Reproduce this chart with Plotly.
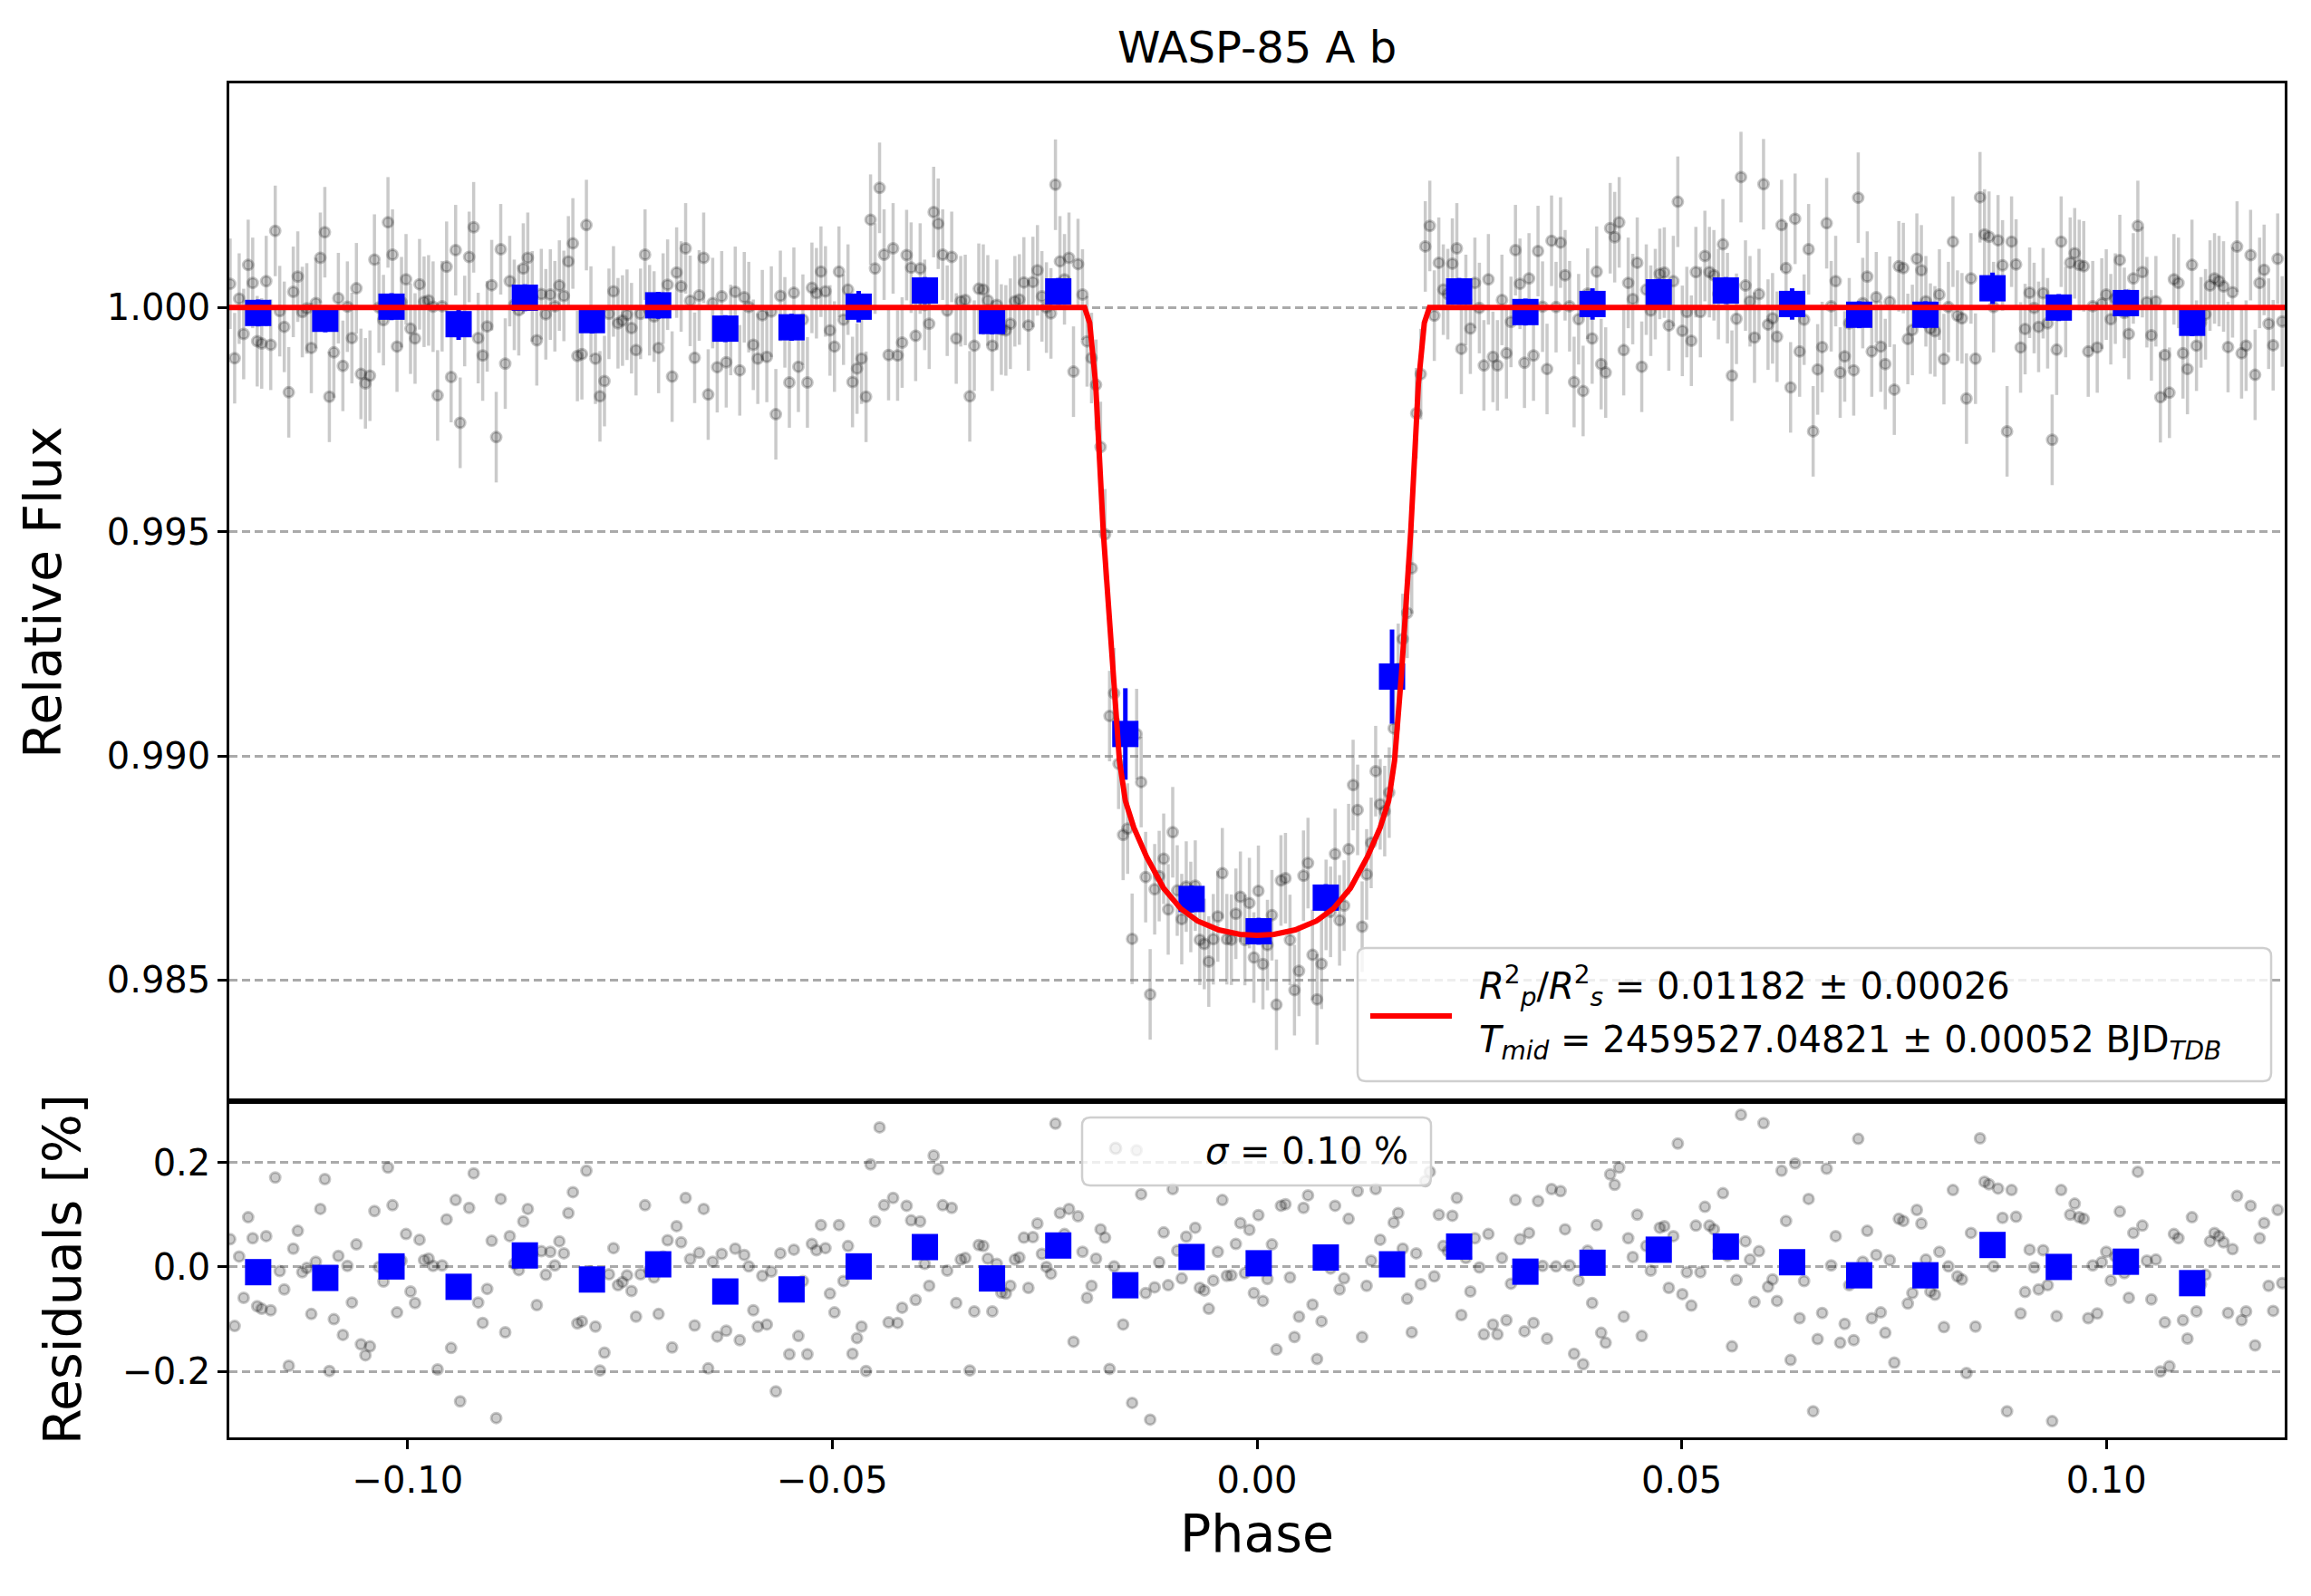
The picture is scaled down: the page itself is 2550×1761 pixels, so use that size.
import numpy as np
import plotly.graph_objects as go
from plotly.subplots import make_subplots

# first / last phase of the unbinned light curve (evenly sampled cadence)
phase_first = -0.1209
phase_last = 0.1207

# residuals of the unbinned points [%], read left to right
resid_pct = [
    0.053, -0.113, 0.020, -0.059, 0.095, 0.055, -0.075, -0.080, 0.059, -0.083,
    0.171, -0.008, -0.043, -0.189, 0.035, 0.069, -0.010, -0.002, -0.090, 0.010,
    0.111, 0.168, -0.199, -0.100, 0.021, -0.130, 0.002, -0.068, 0.043, -0.148,
    -0.169, -0.152, 0.107, 0.000, -0.028, 0.190, 0.118, -0.087, 0.012, 0.063,
    -0.047, -0.069, 0.052, 0.013, 0.016, 0.002, -0.196, 0.003, 0.091, -0.155,
    0.128, -0.257, -0.030, 0.113, 0.179, -0.068, -0.107, -0.042, 0.050, -0.289,
    0.130, -0.125, 0.059, 0.006, -0.006, 0.087, 0.111, 0.025, -0.073, 0.030,
    -0.015, 0.029, 0.003, 0.049, 0.026, 0.103, 0.143, -0.108, -0.104, 0.184,
    -0.009,
    -0.114, -0.198, -0.164, -0.014, 0.036, -0.035, -0.029, -0.016, -0.046, -0.095,
    -0.014, 0.118, -0.006, -0.020, -0.090, 0.020, 0.051, -0.154, 0.078, 0.047,
    0.132, 0.015, -0.112, 0.027, 0.111, -0.194, 0.010, -0.133, 0.025, -0.122,
    -0.050, 0.035, -0.140, 0.023, 0.001, -0.083, -0.114, -0.017, -0.110, -0.009,
    -0.238, 0.026, -0.033, -0.167, 0.033, -0.132, -0.027, -0.167, 0.044, 0.032,
    0.080, 0.036, -0.051, -0.087, 0.080, -0.027, 0.040, -0.166, -0.136, -0.114,
    -0.199, 0.196, 0.087, 0.267, 0.118, -0.106, 0.132, -0.107, -0.078, 0.117,
    0.089, -0.063, 0.087, 0.006, -0.036, 0.213, 0.187, 0.118, -0.007, 0.113,
    -0.069,
    0.014, 0.017, -0.198, -0.085, 0.042, 0.040, 0.016, -0.085, 0.006, -0.049,
    -0.051, -0.036, 0.014, 0.018, 0.056, -0.040, 0.057, 0.083, 0.025, 0.000,
    -0.013, 0.274, 0.103, 0.063, 0.111, -0.143, 0.097, 0.029, -0.059, -0.036,
    0.016, 0.072, 0.056, -0.195, 0.001, -0.030, -0.110, -0.046, -0.260, 0.223,
    0.139, -0.050, -0.292, -0.039, 0.009, 0.066, -0.035, 0.149, 0.031, -0.022,
    0.058, 0.020, 0.075, -0.040, -0.045, -0.080, -0.026, 0.029, 0.128, -0.017,
    -0.016, 0.044, 0.084, -0.012, 0.071, -0.050, 0.099, -0.065, -0.023, 0.043,
    -0.158, 0.117, 0.120, -0.020, -0.134, -0.095, 0.113, 0.137, -0.072, -0.176,
    -0.104, 0.020, -0.003, 0.117, -0.043, -0.022, 0.092, 0.219, 0.145, -0.134,
    -0.036, 0.012, 0.149, 0.052, 0.005, 0.010, 0.085, 0.103, 0.035, -0.061,
    -0.125, 0.026, -0.033, 0.164, 0.182, -0.018, 0.100, 0.040, 0.030, 0.098,
    0.132, -0.092, 0.017, -0.047, 0.055, -0.001, -0.129, 0.063, -0.110, -0.129,
    0.017, -0.102, -0.032, 0.128, 0.053, -0.123, 0.065, -0.107, 0.126, 0.002,
    -0.137, 0.149, 0.001, 0.145, 0.072, 0.003, -0.166, -0.026, -0.186, 0.031,
    -0.069, 0.080, -0.126, -0.145, 0.177, 0.157, 0.190, -0.095, 0.055, 0.019,
    0.100, -0.132, 0.040, -0.007, 0.030, 0.075,
    0.078, -0.040, 0.059, 0.236, -0.052, -0.010, -0.074, 0.079, -0.010, 0.115,
    0.079, 0.072, 0.030, 0.141, 0.021, -0.152, -0.025, 0.291, 0.049, 0.014,
    -0.067, 0.030, 0.275, -0.038, -0.024, -0.065, 0.184, 0.088, -0.178, 0.198,
    -0.098, -0.027, 0.130, -0.276, -0.138, -0.088, 0.188, 0.003, 0.059, -0.145,
    -0.109, -0.035, -0.140, 0.245, 0.010, 0.069, -0.098, 0.023, -0.087, -0.126,
    0.013, -0.183, 0.092, 0.088, -0.070, -0.050, 0.109, 0.083, 0.014, -0.047,
    -0.053, 0.029, -0.115, 0.001, 0.147, -0.018, -0.024, -0.203, 0.065, -0.114,
    0.246, 0.163, 0.158, 0.001, 0.150, 0.094, -0.276, 0.147, 0.096, -0.089,
    -0.048,
    0.033, -0.001, -0.043, 0.032, -0.035, -0.295, -0.094, 0.147, -0.010, 0.100,
    0.121, 0.095, 0.092, -0.098, 0.003, -0.089, 0.009, 0.029, -0.026, 0.020,
    0.106, -0.012, -0.059, 0.065, 0.182, 0.079, 0.012, -0.062, 0.014, -0.200,
    -0.106, -0.190, 0.063, 0.055, -0.102, -0.137, 0.095, -0.085, -0.033, -0.015,
    0.049, 0.065, 0.059, 0.047, -0.088, 0.034, 0.136, -0.102, -0.085, 0.117,
    -0.150, 0.055, 0.084, -0.036, -0.084, 0.109, -0.031,
]
flux_err = 0.00101

# transit model (red curve)
model_phase = [-0.1210, -0.0203, -0.0197, -0.0190, -0.0181, -0.0170, -0.0162,
               -0.0155, -0.0145, -0.0130, -0.0110, -0.0090, -0.0070, -0.0045,
               -0.0020, 0.0000, 0.0020, 0.0045, 0.0070, 0.0090, 0.0110, 0.0130,
               0.0145, 0.0155, 0.0162, 0.0170, 0.0181, 0.0190, 0.0197, 0.0203,
               0.1210]
model_flux = [1.00000, 1.00000, 0.99966, 0.99830, 0.99500, 0.99180, 0.98990,
              0.98900, 0.98840, 0.98775, 0.98705, 0.98660, 0.98632, 0.98612,
              0.98602, 0.98600, 0.98602, 0.98612, 0.98632, 0.98660, 0.98705,
              0.98775, 0.98840, 0.98900, 0.98990, 0.99180, 0.99500, 0.99830,
              0.99966, 1.00000, 1.00000]

# binned points
bin_phase = [-0.1176, -0.1097, -0.1019, -0.0940, -0.0862, -0.0783, -0.0705,
             -0.0626, -0.0548, -0.0469, -0.0391, -0.0312, -0.0234, -0.0155,
             -0.0077, 0.0002, 0.0081, 0.0159, 0.0238, 0.0316, 0.0395, 0.0473,
             0.0552, 0.0630, 0.0709, 0.0787, 0.0866, 0.0944, 0.1023, 0.1101]
bin_flux = [0.99988, 0.99975, 1.00002, 0.99963, 1.00022, 0.99972, 1.00005,
            0.99953, 0.99956, 1.00002, 1.00038, 0.99970, 1.00036, 0.99049,
            0.98681, 0.98609, 0.98684, 0.99177, 1.00036, 0.99990, 1.00008,
            1.00034, 1.00038, 1.00008, 0.99984, 0.99984, 1.00043, 1.00000,
            1.00010, 0.99966]
bin_err = [0.0003, 0.0003, 0.0003, 0.00035, 0.0003, 0.0003, 0.0003, 0.0003,
           0.0003, 0.00035, 0.0003, 0.0003, 0.0003, 0.00102, 0.0003, 0.0003,
           0.0003, 0.00105, 0.0003, 0.0003, 0.00035, 0.0003, 0.0003, 0.00035,
           0.0003, 0.0003, 0.00035, 0.0003, 0.0003, 0.0003]
bin_resid = [-0.010, -0.021, 0.001, -0.038, 0.022, -0.024, 0.005, -0.047,
             -0.043, 0.001, 0.038, -0.022, 0.041, -0.035, 0.019, 0.007, 0.018,
             0.005, 0.039, -0.009, 0.008, 0.033, 0.039, 0.009, -0.016, -0.016,
             0.042, 0.000, 0.010, -0.031]

fit_label_1 = ("<i>R</i><sup>2</sup><sub><i>p</i></sub>/<i>R</i><sup>2</sup><sub><i>s</i></sub>"
               " = 0.01182 ± 0.00026")
fit_label_2 = "<i>T</i><sub><i>mid</i></sub> = 2459527.04821 ± 0.00052 BJD<sub><i>TDB</i></sub>"
sigma_label = "<i>σ</i> = 0.10 %"

phase = np.linspace(phase_first, phase_last, len(resid_pct))
resid = np.array(resid_pct)
flux = np.interp(phase, model_phase, model_flux) + resid / 100.0

FONT = "DejaVu Sans"
dot = dict(size=11, color="rgba(0,0,0,0.2)", line=dict(color="rgba(0,0,0,0.22)", width=3))

fig = make_subplots(rows=2, cols=1, shared_xaxes=True, vertical_spacing=0,
                    row_heights=[0.7517, 0.2483])

fig.add_trace(go.Scatter(x=phase, y=flux, mode="markers", marker=dot,
                         error_y=dict(type="constant", value=flux_err,
                                      color="rgba(128,128,128,0.42)", thickness=3.5, width=0),
                         showlegend=False), row=1, col=1)
fig.add_trace(go.Scatter(x=bin_phase, y=bin_flux, mode="markers",
                         marker=dict(symbol="square", size=29, color="blue"),
                         error_y=dict(type="data", array=bin_err, color="blue",
                                      thickness=5, width=0),
                         showlegend=False), row=1, col=1)
fig.add_trace(go.Scatter(x=model_phase, y=model_flux, mode="lines",
                         line=dict(color="red", width=6), showlegend=False), row=1, col=1)

fig.add_trace(go.Scatter(x=phase, y=resid, mode="markers", marker=dot,
                         showlegend=False), row=2, col=1)
fig.add_trace(go.Scatter(x=bin_phase, y=bin_resid, mode="markers",
                         marker=dict(symbol="square", size=29, color="blue"),
                         showlegend=False), row=2, col=1)

axis_style = dict(showline=True, linecolor="black", linewidth=2.5, mirror=True,
                  ticks="outside", ticklen=10, tickwidth=2.5, tickcolor="black",
                  tickfont=dict(family=FONT, size=40, color="black"), zeroline=False)
grid_style = dict(showgrid=True, gridcolor="#aaaaaa", gridwidth=2.5, griddash="9px,5px")

fig.update_xaxes(range=[-0.121, 0.121], showgrid=False, **axis_style)
fig.update_xaxes(showticklabels=False, ticks="", row=1, col=1)
fig.update_xaxes(tickvals=[-0.10, -0.05, 0.0, 0.05, 0.10],
                 ticktext=["−0.10", "−0.05", "0.00", "0.05", "0.10"],
                 title=dict(text="Phase", font=dict(family=FONT, size=57, color="black"), standoff=18),
                 row=2, col=1)
fig.update_yaxes(range=[0.9823, 1.0050], tickvals=[0.985, 0.990, 0.995, 1.000],
                 ticktext=["0.985", "0.990", "0.995", "1.000"],
                 title=dict(text="Relative Flux", font=dict(family=FONT, size=57, color="black"), standoff=32),
                 row=1, col=1, **axis_style, **grid_style)
fig.update_yaxes(range=[-0.326, 0.317], tickvals=[-0.2, 0.0, 0.2],
                 ticktext=["−0.2", "0.0", "0.2"],
                 title=dict(text="Residuals [%]", font=dict(family=FONT, size=57, color="black"), standoff=28),
                 row=2, col=1, **axis_style, **grid_style)


# page pixel -> paper coordinates (plot area spans 253..2521 x 92..1586 on the page)
def px(x):
    return (x - 253) / 2268


def py(y):
    return (1586 - y) / 1494


def round_box(x0, y0, x1, y1, r=9):
    # rounded legend frame, page pixels in, paper path out
    X0, X1, Y0, Y1 = px(x0), px(x1), py(y1), py(y0)
    rx, ry = r / 2268, r / 1494
    path = (f"M {X0+rx},{Y0} L {X1-rx},{Y0} Q {X1},{Y0} {X1},{Y0+ry} "
            f"L {X1},{Y1-ry} Q {X1},{Y1} {X1-rx},{Y1} L {X0+rx},{Y1} "
            f"Q {X0},{Y1} {X0},{Y1-ry} L {X0},{Y0+ry} Q {X0},{Y0} {X0+rx},{Y0} Z")
    return dict(type="path", path=path, xref="paper", yref="paper",
                fillcolor="rgba(255,255,255,0.8)", line=dict(color="#cfcfcf", width=2.5),
                layer="above")


shapes = [
    round_box(1498, 1046, 2506, 1193),
    dict(type="line", xref="paper", yref="paper", x0=px(1512), x1=px(1602),
         y0=py(1121), y1=py(1121), line=dict(color="red", width=6), layer="above"),
    round_box(1194, 1233, 1579, 1308),
    dict(type="circle", xref="paper", yref="paper", x0=px(1225), x1=px(1237),
         y0=py(1273), y1=py(1261), fillcolor="rgba(0,0,0,0.05)",
         line=dict(color="rgba(0,0,0,0.07)", width=3), layer="above"),
]
legend_font = dict(family=FONT, size=40, color="black")
annotations = [
    dict(text=fit_label_1, xref="paper", yref="paper", x=px(1630), y=py(1088),
         xanchor="left", yanchor="middle", showarrow=False, font=legend_font),
    dict(text=fit_label_2, xref="paper", yref="paper", x=px(1630), y=py(1150),
         xanchor="left", yanchor="middle", showarrow=False, font=legend_font),
    dict(text=sigma_label, xref="paper", yref="paper", x=px(1328), y=py(1270),
         xanchor="left", yanchor="middle", showarrow=False, font=legend_font),
]

# the page body has an 8 px margin, so the figure is shrunk and shifted by it
fig.update_layout(
    width=2534, height=1745,
    margin=dict(l=245, r=21, t=84, b=167),
    plot_bgcolor="white", paper_bgcolor="white",
    font=dict(family=FONT, color="black"),
    title=dict(text="WASP-85 A b", x=0.5, xref="paper", xanchor="center",
               y=1 - 44 / 1745, yanchor="middle",
               font=dict(family=FONT, size=48, color="black")),
    showlegend=False,
    shapes=shapes,
    annotations=annotations,
)

fig.write_html("out.html")
